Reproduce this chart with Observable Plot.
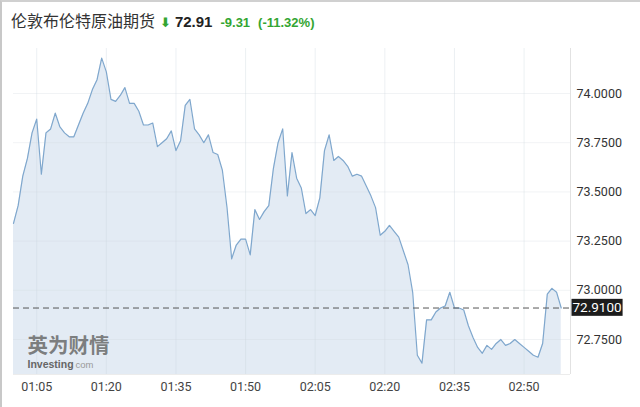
<!DOCTYPE html>
<html><head><meta charset="utf-8">
<script src="https://cdn.jsdelivr.net/npm/d3@7"></script>
<script src="https://cdn.jsdelivr.net/npm/@observablehq/plot@0.6"></script>
<style>
html,body{margin:0;padding:0;background:#fff;}
body{width:640px;height:407px;overflow:hidden;position:relative;font-family:Roboto,"Liberation Sans",Arial,sans-serif;}
#frame{position:absolute;left:0;top:0;width:640px;height:407px;border-left:2px solid #c8c8c8;border-top:2px solid #d0d0d0;box-sizing:border-box;pointer-events:none;z-index:5}
#title{position:absolute;left:11px;top:8px;line-height:24px;white-space:nowrap;}
#title .name{font-family:"Noto Sans CJK SC",sans-serif;font-size:16px;color:#333;}
#title .arrow{font-family:"DejaVu Sans",sans-serif;font-size:13px;color:#33a532;margin-left:5px;font-weight:bold}
#title .last{font-family:"Liberation Sans",Arial,sans-serif;font-size:15px;font-weight:bold;color:#222;margin-left:4px}
#title .chg{font-family:"Liberation Sans",Arial,sans-serif;font-size:13px;font-weight:bold;color:#33a532;margin-left:8px}
#chart{position:absolute;left:0;top:40px;}
</style>
</head><body>
<div id="frame"></div>
<div id="title"></div>
<div id="chart"></div>
<script>
// ---- data ----
const titleName = "伦敦布伦特原油期货";
const lastPrice = "72.91";
const change = "-9.31";
const changePct = "(-11.32%)";
const startTime = "01:00";
const endTime = "03:00";
const prices = [
  73.34,73.43,73.58,73.67,73.80,73.87,73.59,73.80,73.82,73.90,
  73.83,73.80,73.78,73.78,73.84,73.90,73.95,74.02,74.07,74.18,
  74.11,73.97,73.96,73.99,74.03,73.95,73.95,73.91,73.84,73.84,
  73.85,73.73,73.75,73.77,73.81,73.71,73.76,73.94,73.97,73.82,
  73.79,73.75,73.79,73.70,73.69,73.61,73.42,73.16,73.23,73.26,
  73.26,73.18,73.41,73.36,73.40,73.43,73.62,73.75,73.82,73.48,
  73.70,73.57,73.52,73.39,73.41,73.38,73.47,73.71,73.79,73.66,
  73.68,73.66,73.63,73.58,73.59,73.58,73.53,73.48,73.42,73.28,
  73.30,73.33,73.30,73.27,73.20,73.13,72.99,72.67,72.63,72.85,
  72.85,72.89,72.91,72.92,72.99,72.91,72.91,72.90,72.82,72.76,
  72.71,72.68,72.72,72.70,72.73,72.75,72.72,72.73,72.75,72.73,
  72.71,72.69,72.67,72.66,72.73,72.98,73.01,72.99,72.91
];
const yTicks = [72.75, 73.0, 73.25, 73.5, 73.75, 74.0];
const yDomain = [72.5722, 74.2287];
const xTickLabels = ["01:05","01:20","01:35","01:50","02:05","02:20","02:35","02:50"];
const refLine = 72.91;
const watermarkCn = "英为财情";
const watermarkEn = "Investing";
const watermarkDom = "com";

// ---- build ----
const parse = d3.utcParse("%H:%M");
const t0 = parse(startTime);
const data = prices.map((v, i) => ({t: d3.utcMinute.offset(t0, i), v}));
const xTicks = xTickLabels.map(parse);
const xDomain = [t0, parse(endTime)];
const fmt4 = d3.format(".4f");

document.getElementById("title").innerHTML =
  `<span class="name">${titleName}</span><span class="arrow">⬇</span><span class="last">${lastPrice}</span><span class="chg">${change}</span><span class="chg">${changePct}</span>`;

const plot = Plot.plot({
  width: 640, height: 367,
  marginLeft: 13, marginRight: 70, marginTop: 8, marginBottom: 33,
  style: {fontFamily: 'Roboto,"Liberation Sans",Arial,sans-serif', fontSize: "12px", color: "#333", background: "transparent"},
  x: {type: "utc", domain: xDomain, label: null},
  y: {domain: yDomain, label: null},
  marks: [
    Plot.areaY(data, {x: "t", y1: yDomain[0], y2: "v", fill: "#e3ebf4"}),
    Plot.gridX(xTicks, {stroke: "#c9d3de", strokeOpacity: 0.35}),
    Plot.gridY(yTicks, {stroke: "#cfd6de", strokeOpacity: 0.3}),
    Plot.ruleX([xDomain[1]], {stroke: "#e2e2e2"}),
    Plot.ruleY([yDomain[0]], {stroke: "#ececec"}),
    Plot.lineY(data, {x: "t", y: "v", stroke: "#7fa7cd", strokeWidth: 1.2}),
    Plot.ruleY([refLine], {stroke: "#555", strokeDasharray: "6,4", strokeWidth: 1}),
    Plot.axisX(xTicks, {tickFormat: d3.utcFormat("%H:%M"), tickSize: 0, tickPadding: 8, fontSize: 12.5, fill: "#444"}),
    Plot.axisY(yTicks, {anchor: "right", tickFormat: fmt4, tickSize: 0, tickPadding: 6, fontSize: 12.5, fill: "#333"}),
    Plot.text([watermarkCn], {frameAnchor: "bottom-left", text: d => d, dx: 14, dy: -22, textAnchor: "start", lineAnchor: "bottom", fontSize: 20.5, fontWeight: "bold", fill: "#6a6a6a", fillOpacity: 0.85, fontFamily: '"Noto Sans CJK SC",sans-serif'}),
    Plot.text([watermarkEn], {frameAnchor: "bottom-left", text: d => d, dx: 14, dy: -7, textAnchor: "start", lineAnchor: "bottom", fontSize: 10.5, fontWeight: "bold", fill: "#666", fontFamily: '"Liberation Sans",Arial,sans-serif'}),
    Plot.text([watermarkDom], {frameAnchor: "bottom-left", text: d => d, dx: 62, dy: -7, textAnchor: "start", lineAnchor: "bottom", fontSize: 9.5, fill: "#999", fontFamily: '"Liberation Sans",Arial,sans-serif'}),
    Plot.text([refLine], {x: xDomain[1], y: d => d, text: d => fmt4(d), textAnchor: "start", dx: 2, fill: "white", fontSize: 13.5, fontFamily: 'Roboto,"Liberation Sans",Arial,sans-serif'})
  ]
});
document.getElementById("chart").appendChild(plot);

// dark box behind the last-price label (placed in the text's own coordinate system)
const label = fmt4(refLine);
d3.select(plot).selectAll("text").filter(function() {
  return this.textContent === label;
}).each(function() {
  const b = this.getBBox();
  const r = d3.select(this.parentNode).insert("rect", "text")
    .attr("x", b.x - 1).attr("y", b.y - 0.5)
    .attr("width", b.width + 2).attr("height", b.height + 1)
    .attr("fill", "#1c1c1c");
  const tr = this.getAttribute("transform");
  if (tr) r.attr("transform", tr);
});
</script>
</body></html>
